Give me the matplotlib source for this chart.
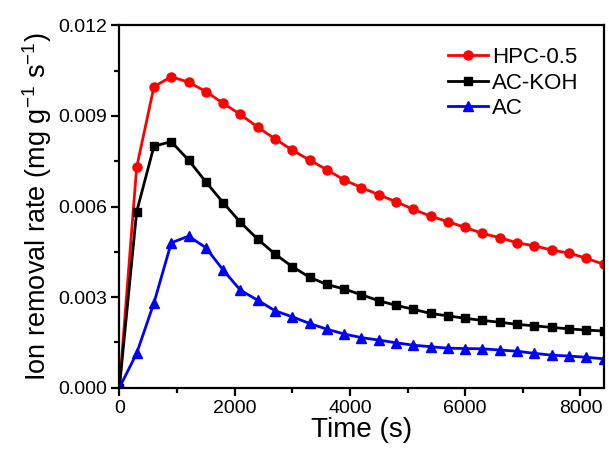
import matplotlib
matplotlib.use("Agg")
from matplotlib import pyplot as plt
from matplotlib.ticker import MultipleLocator

plt.rcParams['font.family'] = ['Liberation Sans', 'DejaVu Sans']
plt.rcParams['mathtext.fontset'] = 'custom'
plt.rcParams['mathtext.rm'] = 'Liberation Sans'
plt.rcParams['mathtext.it'] = 'Liberation Sans'
plt.rcParams['mathtext.default'] = 'regular'

time = [0, 300, 600, 900, 1200, 1500, 1800, 2100, 2400, 2700, 3000, 3300, 3600, 3900,
        4200, 4500, 4800, 5100, 5400, 5700, 6000, 6300, 6600, 6900, 7200, 7500, 7800,
        8100, 8400]

hpc = [0.0, 0.00730, 0.00997, 0.01030, 0.01012, 0.00981, 0.00942, 0.00905, 0.00863,
       0.00824, 0.00787, 0.00754, 0.00722, 0.00688, 0.00663, 0.00639, 0.00616, 0.00591,
       0.00568, 0.00550, 0.00531, 0.00511, 0.00497, 0.00480, 0.00470, 0.00456, 0.00446,
       0.00429, 0.00409]

ac_koh = [0.0, 0.00583, 0.00800, 0.00815, 0.00754, 0.00682, 0.00613, 0.00548, 0.00492,
          0.00443, 0.00401, 0.00366, 0.00342, 0.00327, 0.00308, 0.00288, 0.00273, 0.00260,
          0.00246, 0.00238, 0.00230, 0.00223, 0.00217, 0.00210, 0.00205, 0.00200, 0.00195,
          0.00191, 0.00188]

ac = [0.0, 0.00114, 0.00281, 0.00480, 0.00502, 0.00464, 0.00390, 0.00323, 0.00290,
      0.00255, 0.00235, 0.00213, 0.00194, 0.00178, 0.00166, 0.00158, 0.00149, 0.00141,
      0.00136, 0.00131, 0.00130, 0.00129, 0.00125, 0.00121, 0.00114, 0.00108, 0.00105,
      0.00101, 0.00096]

fig = plt.figure(figsize=(6.09, 4.53), dpi=100)
ax = fig.add_axes([0.196, 0.144, 0.795, 0.8])

ax.plot(time, hpc, color='#ff0000', marker='o', markersize=6.5, linewidth=2, label='HPC-0.5')
ax.plot(time, ac_koh, color='black', marker='s', markersize=5.5, linewidth=2, label='AC-KOH')
ax.plot(time, ac, color='#0000ff', marker='^', markersize=6.5, linewidth=2, label='AC')

ax.set_xlim(0, 8400)
ax.set_ylim(0, 0.012)
ax.xaxis.set_major_locator(MultipleLocator(2000))
ax.xaxis.set_minor_locator(MultipleLocator(1000))
ax.yaxis.set_major_locator(MultipleLocator(0.003))
ax.yaxis.set_minor_locator(MultipleLocator(0.0015))
ax.yaxis.set_major_formatter(matplotlib.ticker.FormatStrFormatter('%.3f'))

for s in ax.spines.values():
    s.set_linewidth(1.6)
ax.tick_params(which='major', direction='out', length=6, width=1.6, labelsize=14, pad=3)
ax.tick_params(which='minor', direction='out', length=3.5, width=1.6)

ax.set_xlabel('Time (s)', fontsize=20, labelpad=0)
ax.set_ylabel('Ion removal rate (mg g$^{-1}$ s$^{-1}$)', fontsize=19.5, labelpad=3)

ax.legend(loc='upper right', frameon=False, fontsize=16, handlelength=1.8,
          handletextpad=0.2, labelspacing=0.2, bbox_to_anchor=(0.99, 0.995))

plt.savefig('out.png', dpi=100)
